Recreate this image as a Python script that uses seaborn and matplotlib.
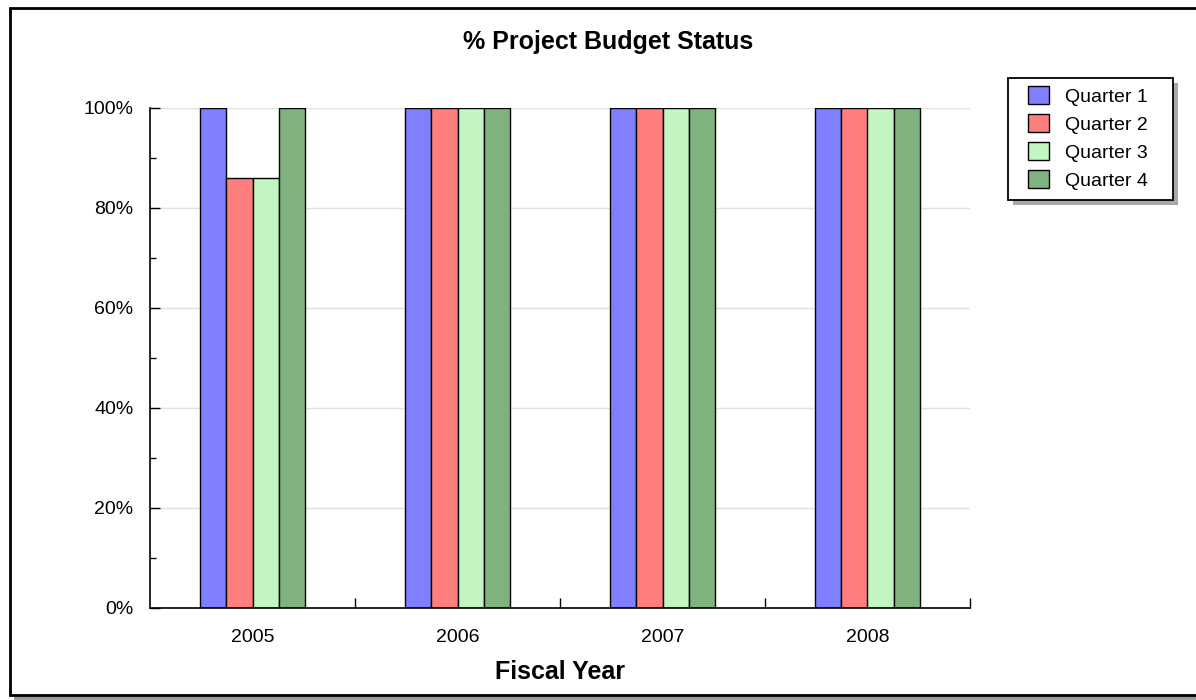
import matplotlib
matplotlib.use("Agg")
import matplotlib.pyplot as plt
from matplotlib.patches import Rectangle
from matplotlib.ticker import MultipleLocator, FixedLocator
import seaborn as sns
import pandas as pd

# Budget status per fiscal year, one value per quarter (percent)
years = ["2005", "2006", "2007", "2008"]
quarters = ["Quarter 1", "Quarter 2", "Quarter 3", "Quarter 4"]
q1 = [100, 100, 100, 100]
q2 = [86, 100, 100, 100]
q3 = [86, 100, 100, 100]
q4 = [100, 100, 100, 100]
colors = ["#7F7FFF", "#FF7F7F", "#C2F5C2", "#7FB27F"]

rows = []
for q, vals in zip(quarters, [q1, q2, q3, q4]):
    for y, v in zip(years, vals):
        rows.append({"Year": y, "Quarter": q, "Value": v})
df = pd.DataFrame(rows)

sns.set_theme(style="white")
plt.rcParams["font.family"] = ["Liberation Sans", "DejaVu Sans"]
plt.rcParams["text.color"] = "black"
plt.rcParams["xtick.color"] = "black"
plt.rcParams["ytick.color"] = "black"
plt.rcParams["axes.labelcolor"] = "black"

W, H = 1196, 700
fig = plt.figure(figsize=(W / 100, H / 100), dpi=100)
fig.patch.set_facecolor("white")


def px_rect(x0, y0, x1, y1, **kw):
    """Rectangle in figure pixels measured from the top-left corner."""
    return Rectangle((x0 / W, 1 - y1 / H), (x1 - x0) / W, (y1 - y0) / H,
                     transform=fig.transFigure, **kw)


# outer frame with a drop shadow
fig.patches.append(px_rect(14, 12, 1300, 699.5, facecolor="#9a9a9a",
                           edgecolor="none", zorder=-20))
fig.patches.append(px_rect(10, 8, 1300, 695, facecolor="white",
                           edgecolor="black", linewidth=2, zorder=-10))

# legend box with its shadow
fig.patches.append(px_rect(1013, 83, 1178, 205, facecolor="#a8a8a8",
                           edgecolor="none", zorder=3))
fig.patches.append(px_rect(1008, 78, 1173, 200, facecolor="white",
                           edgecolor="black", linewidth=1.3, zorder=4))

ax = fig.add_axes([150 / W, 1 - 608 / H, 820 / W, 500 / H])
ax.set_facecolor("none")
ax.set_zorder(2)

sns.barplot(data=df, x="Year", y="Value", hue="Quarter", order=years,
            hue_order=quarters, palette=colors, width=0.51, gap=0,
            edgecolor="black", linewidth=1, saturation=1, ax=ax, legend=True)

ax.set_xlim(-0.5, len(years) - 0.5)
ax.set_ylim(0, 100)

# horizontal grid
for yv in range(20, 101, 20):
    ax.axhline(yv, color="#e0e0e0", linewidth=1, zorder=0)

ax.set_yticks(range(0, 101, 20))
ax.yaxis.set_minor_locator(MultipleLocator(10))
ax.set_yticklabels([f"{v}%" for v in range(0, 101, 20)], fontsize=14)
ax.tick_params(axis="y", which="major", direction="in", length=7.5, width=1,
               color="black", pad=12, left=True)
ax.tick_params(axis="y", which="minor", direction="in", length=4, width=1,
               color="black", left=True)

# category labels centred, ticks on the category boundaries
ax.set_xticks(range(len(years)))
ax.set_xticklabels(years, fontsize=14)
ax.tick_params(axis="x", which="major", length=0, pad=15)
ax.xaxis.set_minor_locator(FixedLocator([0.5, 1.5, 2.5, 3.5]))
ax.tick_params(axis="x", which="minor", direction="in", length=7.5, width=1,
               color="black", bottom=True)

for s in ["top", "right"]:
    ax.spines[s].set_visible(False)
for s in ["left", "bottom"]:
    ax.spines[s].set_color("black")
    ax.spines[s].set_linewidth(1.2)

ax.set_ylabel("")
ax.set_xlabel("Fiscal Year", fontsize=18, fontweight="bold", labelpad=10)

fig.text(608 / W, 1 - 42 / H, "% Project Budget Status", ha="center",
         va="center", fontsize=18, fontweight="bold")

handles, labels = ax.get_legend_handles_labels()
ax.legend_.remove()
leg = fig.legend(handles, labels, loc="upper left",
                 bbox_to_anchor=(1028 / W, 1 - 86 / H), frameon=False,
                 fontsize=14, handlelength=1.08, handleheight=1.08,
                 handletextpad=0.8, borderpad=0, labelspacing=0.42,
                 borderaxespad=0)
leg.set_zorder(5)

fig.savefig("out.png", dpi=100)
